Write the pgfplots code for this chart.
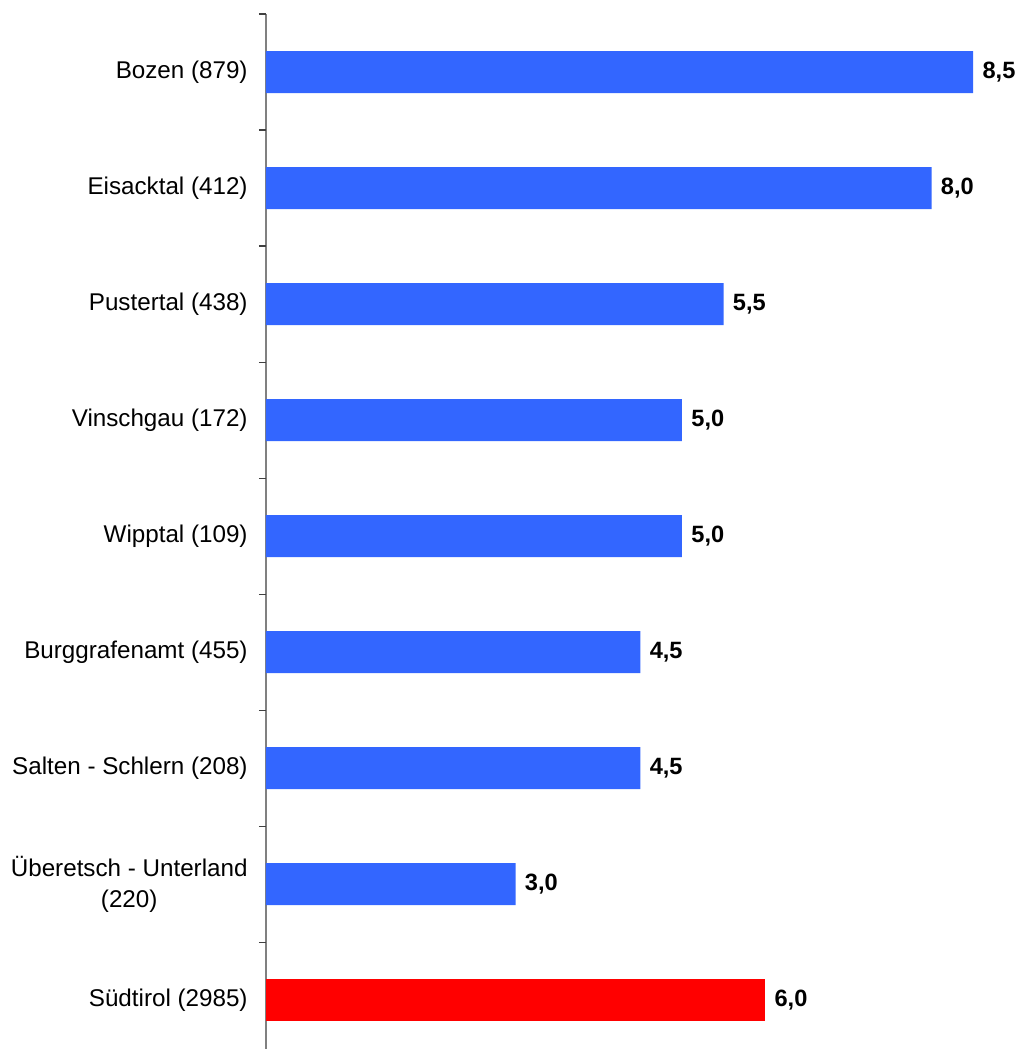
\documentclass[border=0pt]{standalone}
\usepackage{pgfplots}
\pgfplotsset{compat=1.18}
\usepackage{fontspec}
\setmainfont{Liberation Sans}
\definecolor{barblue}{HTML}{3366FF}
\definecolor{barred}{HTML}{FF0000}
\begin{document}
\begin{tikzpicture}
\useasboundingbox (-133pt,0) rectangle (376.5pt,524.5pt);
\begin{axis}[
  at={(0,0)}, anchor=south west,
  scale only axis,
  width=374.4pt, height=517.5pt,
  xmin=0, xmax=9,
  ymin=-0.5, ymax=8.42,
  y dir=reverse,
  axis x line=none,
  axis y line*=left,
  axis line style={draw=gray, line width=0.6pt},
  xtick=\empty,
  ytick={0,1,2,3,4,5,6,7,8},
  yticklabels={Bozen (879), Eisacktal (412), Pustertal (438), Vinschgau (172), Wipptal (109), Burggrafenamt (455), Salten - Schlern (208), {Überetsch - Unterland\\(220)}, Südtirol (2985)},
  major tick length=0pt,
  yticklabel style={font=\fontsize{12.1}{15.5}\selectfont, align=center, anchor=east, inner sep=0pt, xshift=-9pt},
  extra y ticks={-0.5,0.5,1.5,2.5,3.5,4.5,5.5,6.5,7.5},
  extra y tick labels={},
  extra tick style={major tick length=3.5pt, tick align=outside, tick style={draw=darkgray, line width=0.6pt}},
  xbar, bar width=21pt, bar shift=0pt,
  clip=false,
  nodes near coords,
  every node near coord/.append style={font=\bfseries\fontsize{11.8}{13.8}\selectfont, anchor=west, inner sep=0pt, xshift=4.5pt, text=black},
  /pgf/number format/.cd, fixed, fixed zerofill, precision=1, use comma, assume math mode=true,
]
\addplot[draw=none, fill=barblue] coordinates {(8.5,0) (8.0,1) (5.5,2) (5.0,3) (5.0,4) (4.5,5) (4.5,6) (3.0,7)};
\addplot[draw=none, fill=barred] coordinates {(6.0,8)};
\end{axis}
\end{tikzpicture}
\end{document}
